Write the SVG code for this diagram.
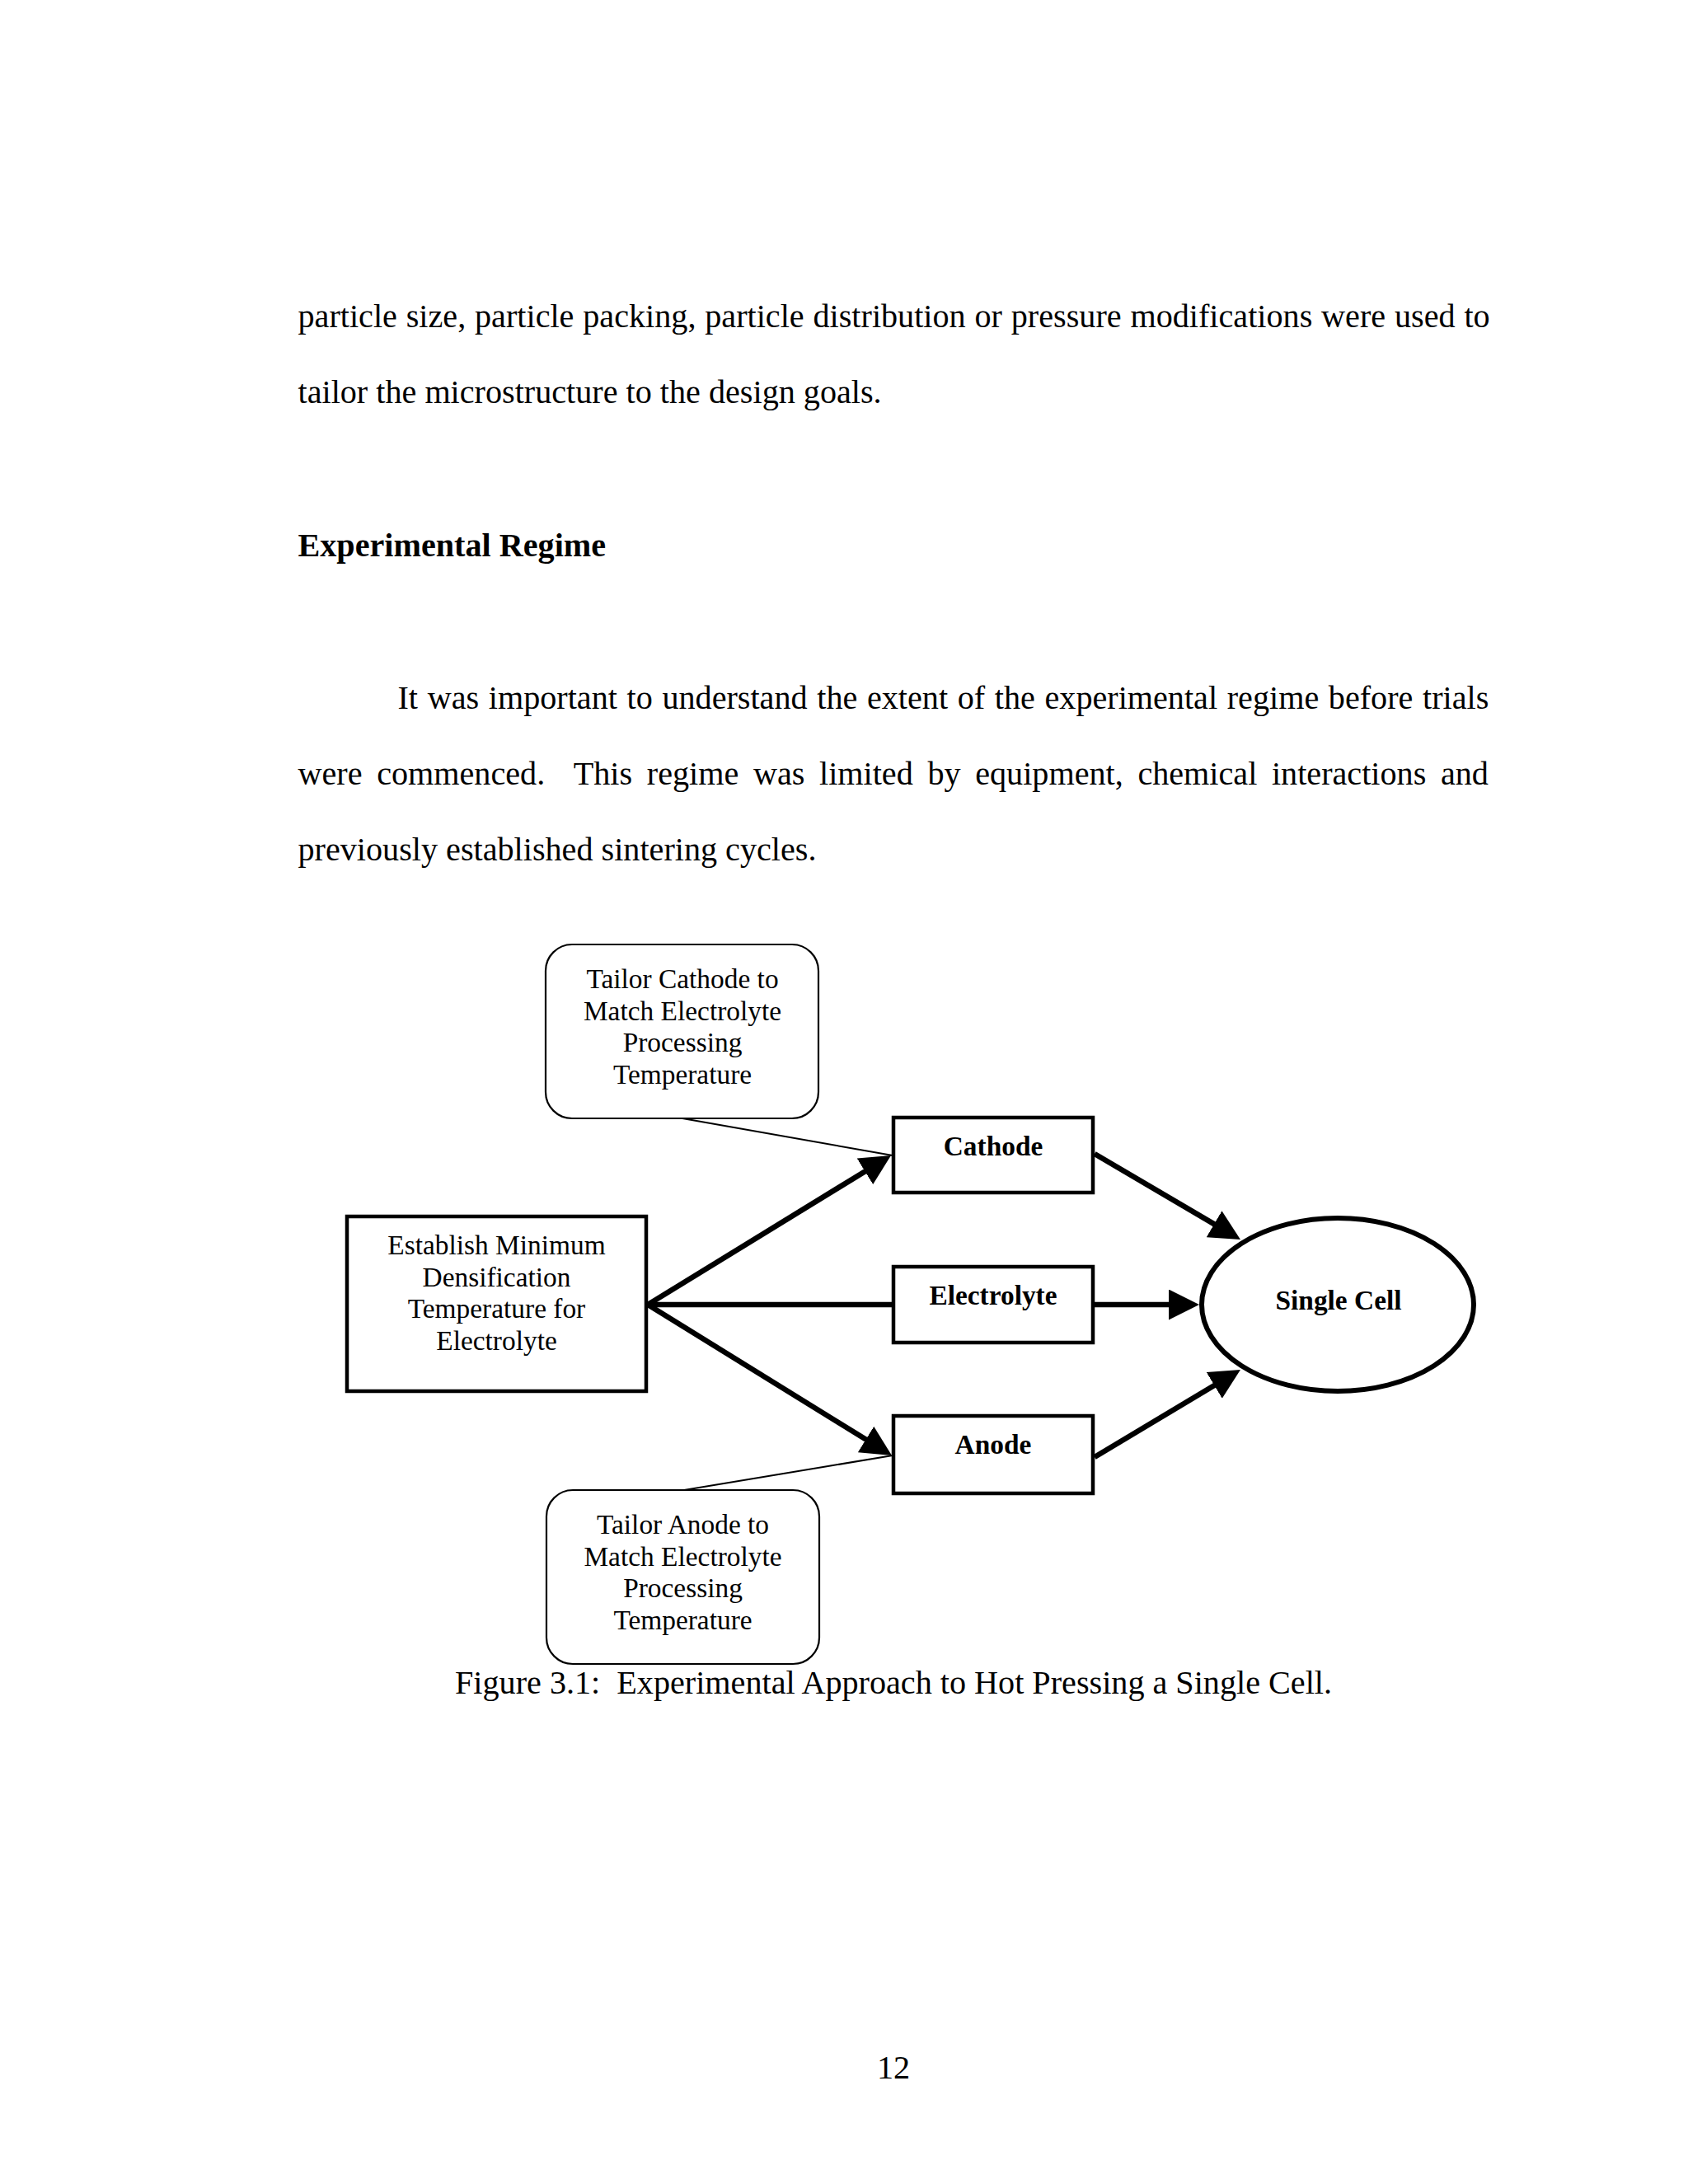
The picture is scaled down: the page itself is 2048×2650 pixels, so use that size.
<svg xmlns="http://www.w3.org/2000/svg" width="2048" height="2650" viewBox="0 0 2048 2650">
<style>
.body{font-family:"Liberation Serif","Times New Roman",serif;font-size:40.16px;fill:#000;white-space:pre}
.bold{font-weight:bold}
.lab{font-family:"Liberation Serif","Times New Roman",serif;font-size:33.4px;fill:#000;text-anchor:middle}
.blab{font-family:"Liberation Serif","Times New Roman",serif;font-size:33.4px;font-weight:bold;fill:#000;text-anchor:middle}
.box{fill:#fff;stroke:#000;stroke-width:4.5}
.rbox{fill:#fff;stroke:#000;stroke-width:2.2}
.thick{stroke:#000;stroke-width:6.5;fill:none}
.thin{stroke:#000;stroke-width:2;fill:none}
</style>
<defs>
<marker id="ah" markerUnits="userSpaceOnUse" markerWidth="37" markerHeight="37" refX="20" refY="18.5" orient="auto" viewBox="0 0 37 37">
<path d="M0,0 L37,18.5 L0,37 z" fill="#000"/>
</marker>
</defs>
<rect width="2048" height="2650" fill="#fff"/>
<g id="page-text">
<text class="body" x="361.5" y="397" word-spacing="0.8">particle size, particle packing, particle distribution or pressure modifications were used to</text>
<text class="body" x="361.5" y="489">tailor the microstructure to the design goals.</text>
<text class="body bold" x="361.5" y="675">Experimental Regime</text>
<text class="body" x="482.5" y="860" word-spacing="1.6">It was important to understand the extent of the experimental regime before trials</text>
<text class="body" x="361.5" y="952" word-spacing="7.6">were commenced.  This regime was limited by equipment, chemical interactions and</text>
<text class="body" x="361.5" y="1044">previously established sintering cycles.</text>
<text class="body" x="1084" y="2055" text-anchor="middle">Figure 3.1:  Experimental Approach to Hot Pressing a Single Cell.</text>
<text class="body" x="1084" y="2522" text-anchor="middle">12</text>
</g>
<g id="connectors">
<line class="thin" x1="828" y1="1357" x2="1083" y2="1402"/>
<line class="thin" x1="830" y1="1808" x2="1083" y2="1766"/>
<line class="thick" x1="786" y1="1583" x2="1066.5" y2="1410.9" marker-end="url(#ah)"/>
<line class="thick" x1="786" y1="1583" x2="1084" y2="1583"/>
<line class="thick" x1="786" y1="1583" x2="1067.5" y2="1757.1" marker-end="url(#ah)"/>
<line class="thick" x1="1328" y1="1400" x2="1490.3" y2="1495.4" marker-end="url(#ah)"/>
<line class="thick" x1="1326" y1="1583" x2="1438" y2="1583" marker-end="url(#ah)"/>
<line class="thick" x1="1328" y1="1768" x2="1490.4" y2="1670.7" marker-end="url(#ah)"/>
</g>
<g id="tailor-cathode">
<rect class="rbox" x="662" y="1146" width="331" height="211" rx="32" ry="32"/>
<text class="lab" x="828" y="1199">Tailor Cathode to</text>
<text class="lab" x="828" y="1237.5">Match Electrolyte</text>
<text class="lab" x="828" y="1276">Processing</text>
<text class="lab" x="828" y="1314.5">Temperature</text>
</g>
<g id="tailor-anode">
<rect class="rbox" x="663" y="1808" width="331" height="211" rx="32" ry="32"/>
<text class="lab" x="828.5" y="1861">Tailor Anode to</text>
<text class="lab" x="828.5" y="1899.5">Match Electrolyte</text>
<text class="lab" x="828.5" y="1938">Processing</text>
<text class="lab" x="828.5" y="1976.5">Temperature</text>
</g>
<g id="establish">
<rect class="box" x="421" y="1476" width="363" height="212"/>
<text class="lab" x="602.5" y="1522">Establish Minimum</text>
<text class="lab" x="602.5" y="1560.5">Densification</text>
<text class="lab" x="602.5" y="1599">Temperature for</text>
<text class="lab" x="602.5" y="1637.5">Electrolyte</text>
</g>
<g id="cathode">
<rect class="box" x="1084" y="1356" width="242" height="91"/>
<text class="blab" x="1205" y="1402">Cathode</text>
</g>
<g id="electrolyte">
<rect class="box" x="1084" y="1537" width="242" height="92"/>
<text class="blab" x="1205" y="1583">Electrolyte</text>
</g>
<g id="anode">
<rect class="box" x="1084" y="1718" width="242" height="94"/>
<text class="blab" x="1205" y="1764">Anode</text>
</g>
<g id="single-cell">
<ellipse cx="1623" cy="1583" rx="165" ry="105" fill="#fff" stroke="#000" stroke-width="6"/>
<text class="blab" x="1624" y="1589">Single Cell</text>
</g>
</svg>
